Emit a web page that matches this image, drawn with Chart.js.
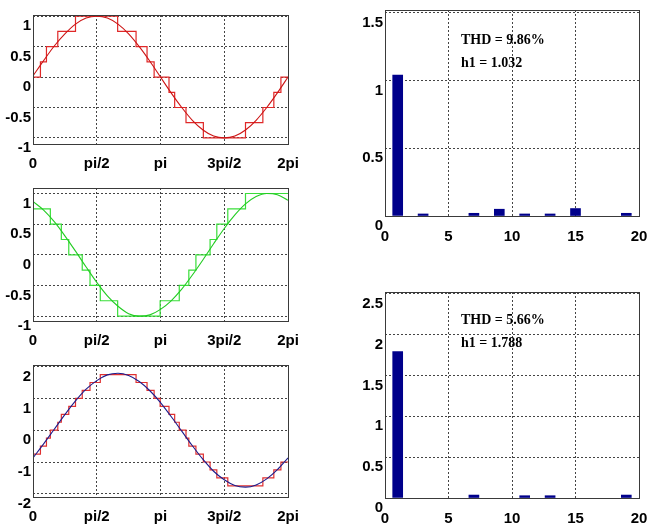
<!DOCTYPE html>
<html><head><meta charset="utf-8">
<script src="https://cdn.jsdelivr.net/npm/chart.js@4/dist/chart.umd.min.js"></script>
<style>
html,body{margin:0;padding:0;background:#fff;}
#wrap{position:relative;width:648px;height:526px;overflow:hidden;background:#fff;}
canvas{position:absolute;}
</style></head>
<body><div id="wrap">
<canvas id="c1"></canvas><canvas id="c2"></canvas><canvas id="c3"></canvas>
<canvas id="c4"></canvas><canvas id="c5"></canvas>
</div>
<script>
// ---------- data ----------
const angleTicks = [0, 90, 180, 270, 360];
const angleTickLabels = ['0', 'pi/2', 'pi', '3pi/2', '2pi'];

const curveAngles = [0,15,30,45,60,75,90,105,120,135,150,165,180,195,210,225,240,255,270,285,300,315,330,345,360];
const waveA  = [0.02,0.27,0.51,0.71,0.87,0.97,1.00,0.97,0.87,0.71,0.50,0.26,0.00,-0.26,-0.50,-0.71,-0.87,-0.97,-1.00,-0.97,-0.87,-0.71,-0.50,-0.26,0.00];
const waveB  = [0.87,0.73,0.54,0.31,0.06,-0.20,-0.45,-0.67,-0.84,-0.96,-1.00,-0.98,-0.89,-0.75,-0.56,-0.33,-0.08,0.18,0.43,0.65,0.83,0.95,1.00,0.98,0.89];
const waveAB = [-0.87,-0.43,0.03,0.49,0.92,1.29,1.56,1.74,1.79,1.72,1.53,1.24,0.87,0.43,-0.03,-0.49,-0.92,-1.29,-1.56,-1.74,-1.79,-1.72,-1.53,-1.24,-0.87];

const stepAnglesA = [0,10.5,19,35,60,119.5,145.5,161,171,192,200,216,240.5,300,324.5,340,350,360];
const stepLevelsA = [0,0.25,0.5,0.75,1,0.75,0.5,0.25,0,-0.25,-0.5,-0.75,-1,-0.75,-0.5,-0.25,0,0];
const stepAnglesB = [0,24.5,40,50.5,69.5,80.5,95,119.5,179.5,206.5,220,230,250,259.5,275,300,360];
const stepLevelsB = [0.75,0.5,0.25,0,-0.25,-0.5,-0.75,-1,-0.75,-0.5,-0.25,0,0.25,0.5,0.75,1,1];
const stepAnglesAB = [0,10.5,19,24.5,35,40,50.5,60,69.5,80.5,95,145.5,161,171,179.5,192,200,206.5,216,220,230,240.5,250,259.5,275,324.5,340,350,360];
const stepLevelsAB = [-0.75,-0.5,-0.25,0,0.25,0.5,0.75,1,1.25,1.5,1.75,1.5,1.25,1,0.75,0.5,0.25,0,-0.25,-0.5,-0.75,-1,-1.25,-1.5,-1.75,-1.5,-1.25,-1,-1];

const waveTicksUnit = [-1, -0.5, 0, 0.5, 1];
const waveTicksLL   = [-2, -1, 0, 1, 2];

const harmonicTicks = [0, 5, 10, 15, 20];
const harmonicsA  = [1, 3, 7, 9, 11, 13, 15, 19];
const spectrumA   = [1.04, 0.015, 0.02, 0.05, 0.015, 0.015, 0.055, 0.02];
const harmonicsAB = [1, 7, 11, 13, 19];
const spectrumAB  = [1.79, 0.036, 0.028, 0.028, 0.036];
const spectrumTicksA  = [0, 0.5, 1, 1.5];
const spectrumTicksAB = [0, 0.5, 1, 1.5, 2, 2.5];
const notesA  = ['THD = 9.86%', 'h1 = 1.032'];
const notesAB = ['THD = 5.66%', 'h1 = 1.788'];

// ---------- styling ----------
const TICK_FONT = { family: "'Liberation Sans Narrow','Liberation Sans',Arial,sans-serif", size: 15, weight: 'bold' };
const GRID_COLOR = '#444';
const X_AXIS_H = 34;

const framePlugin = {
  id: 'frame',
  afterDraw(chart) {
    const { ctx, chartArea: a } = chart;
    ctx.save();
    ctx.strokeStyle = '#3a3a3a';
    ctx.lineWidth = 1;
    ctx.setLineDash([]);
    ctx.strokeRect(Math.round(a.left) + 0.5, Math.round(a.top) + 0.5, Math.round(a.right - a.left), Math.round(a.bottom - a.top));
    ctx.restore();
  }
};
const notePlugin = {
  id: 'note',
  afterDraw(chart, args, opts) {
    if (!opts || !opts.lines) return;
    const { ctx, chartArea: a } = chart;
    ctx.save();
    ctx.font = "bold 14px 'Liberation Serif','Times New Roman',serif";
    ctx.fillStyle = '#000';
    ctx.textBaseline = 'middle';
    opts.lines.forEach((t, i) => ctx.fillText(t, a.left + opts.dx, a.top + opts.dy[i]));
    ctx.restore();
  }
};

function place(id, p) {
  const cv = document.getElementById(id);
  cv.width = p.w; cv.height = p.h;
  cv.style.left = p.x + 'px'; cv.style.top = p.y + 'px';
  return cv;
}
function pts(xs, ys) { return xs.map((x, i) => ({ x: x, y: ys[i] })); }

function axisX(min, max, tickVals, labels, pad) {
  return {
    type: 'linear', min: min, max: max, offset: false,
    afterBuildTicks: s => { s.ticks = tickVals.map(v => ({ value: v })); },
    afterFit: s => { s.height = X_AXIS_H; s.paddingLeft = 0; s.paddingRight = 0; },
    ticks: { autoSkip: false, maxRotation: 0, padding: pad, color: '#000', font: TICK_FONT,
             callback: (v, i) => labels[i] },
    grid: { color: GRID_COLOR, lineWidth: 1, drawTicks: false, offset: false },
    border: { display: false, dash: [2, 2] }
  };
}
function axisY(min, max, tickVals, width) {
  return {
    type: 'linear', min: min, max: max,
    afterBuildTicks: s => { s.ticks = tickVals.map(v => ({ value: v })); },
    afterFit: s => { s.width = width; s.paddingTop = 0; s.paddingBottom = 0; },
    ticks: { autoSkip: false, padding: 2, labelOffset: 10, color: '#000', font: TICK_FONT,
             callback: v => String(v) },
    grid: { color: GRID_COLOR, lineWidth: 1, drawTicks: false },
    border: { display: false, dash: [2, 2] }
  };
}

function waveChart(id, p, yMin, yMax, yTicks, datasets) {
  const cv = place(id, p);
  return new Chart(cv, {
    type: 'line',
    data: { datasets: datasets },
    options: {
      responsive: false, animation: false, events: [],
      layout: { padding: { top: p.padTop, right: p.padRight, left: 0, bottom: 0 } },
      plugins: { legend: { display: false }, tooltip: { enabled: false } },
      elements: { point: { radius: 0 } },
      scales: {
        x: axisX(0, 360, angleTicks, angleTickLabels, 11),
        y: axisY(yMin, yMax, yTicks, p.yW)
      }
    },
    plugins: [framePlugin]
  });
}
function curveDs(xs, ys, color) {
  return { data: pts(xs, ys), borderColor: color, borderWidth: 1.1, cubicInterpolationMode: 'monotone', fill: false, pointRadius: 0 };
}
function stepDs(xs, ys, color) {
  return { data: pts(xs, ys), borderColor: color, borderWidth: 1.2, stepped: 'before', fill: false, pointRadius: 0 };
}

waveChart('c1', { x: 0, y: 3, w: 330, h: 175, padTop: 12, padRight: 42, yW: 33 }, -1.1, 1.02, waveTicksUnit, [
  curveDs(curveAngles, waveA, '#cc1414'),
  stepDs(stepAnglesA, stepLevelsA, '#e02828')
]);
waveChart('c2', { x: 0, y: 176, w: 330, h: 179, padTop: 12, padRight: 42, yW: 33 }, -1.08, 1.09, waveTicksUnit, [
  curveDs(curveAngles, waveB, '#22cc22'),
  stepDs(stepAnglesB, stepLevelsB, '#3ade3a')
]);
waveChart('c3', { x: 0, y: 353, w: 330, h: 178, padTop: 12, padRight: 42, yW: 33 }, -2.1, 2.05, waveTicksLL, [
  curveDs(curveAngles, waveAB, '#1c1c8c'),
  stepDs(stepAnglesAB, stepLevelsAB, '#e03030')
]);

function spectrumChart(id, p, yMax, yTicks, orders, values, notes, noteDy) {
  const cv = place(id, p);
  return new Chart(cv, {
    type: 'bar',
    data: { datasets: [{ data: pts(orders, values), backgroundColor: '#00008b', borderWidth: 0, barThickness: 10 }] },
    options: {
      responsive: false, animation: false, events: [],
      layout: { padding: { top: p.padTop, right: p.padRight, left: 0, bottom: 0 } },
      plugins: { legend: { display: false }, tooltip: { enabled: false },
                 note: { lines: notes, dx: 76, dy: noteDy } },
      scales: {
        x: axisX(0, 20, harmonicTicks, harmonicTicks.map(String), 12),
        y: axisY(0, yMax, yTicks, p.yW)
      }
    },
    plugins: [framePlugin, notePlugin]
  });
}
spectrumChart('c4', { x: 345, y: 0, w: 303, h: 250, padTop: 10, padRight: 9, yW: 40 }, 1.52, spectrumTicksA, harmonicsA, spectrumA, notesA, [30, 53]);
spectrumChart('c5', { x: 345, y: 280, w: 303, h: 252, padTop: 12, padRight: 9, yW: 40 }, 2.52, spectrumTicksAB, harmonicsAB, spectrumAB, notesAB, [28, 51]);
</script>
</body></html>
